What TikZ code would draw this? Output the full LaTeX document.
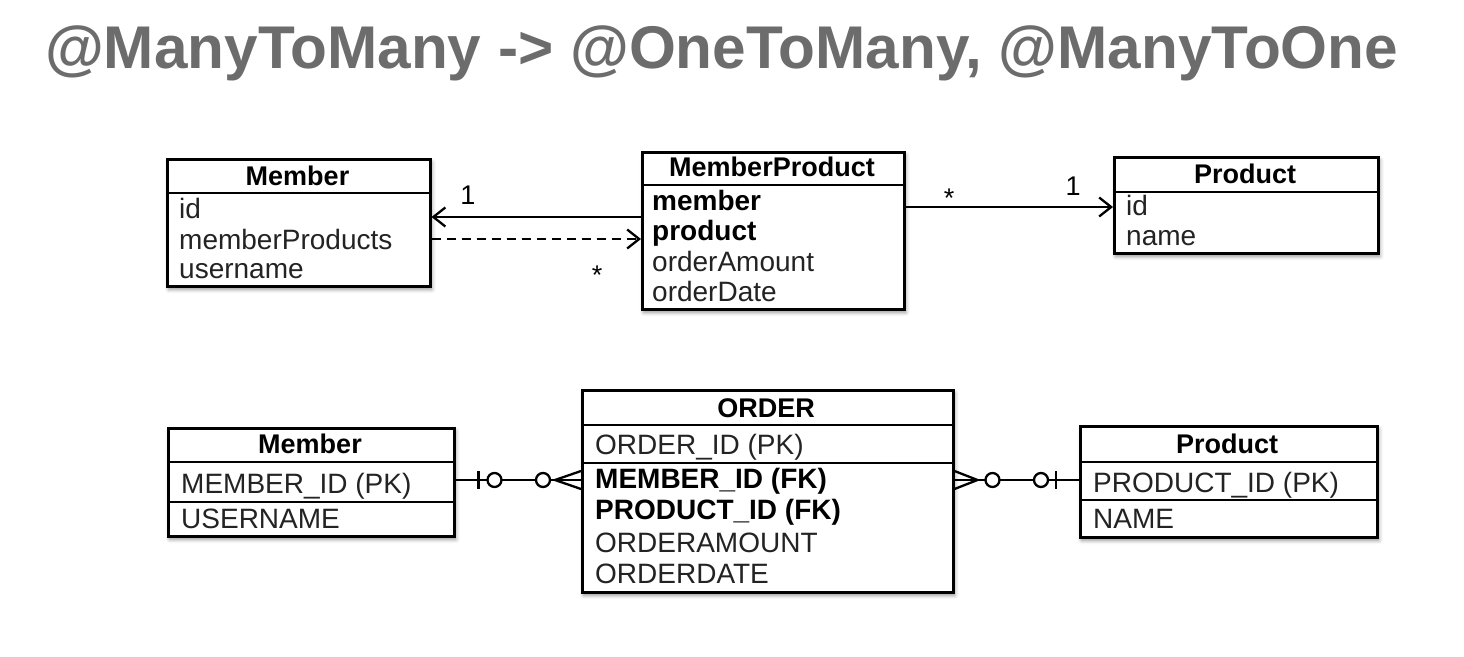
\documentclass[tikz,border=0pt]{standalone}
\usepackage{fontspec}
\setmainfont{Liberation Sans}
\usetikzlibrary{arrows.meta,shadows.blur,calc}
\definecolor{titlegray}{RGB}{108,108,108}
\definecolor{fieldgray}{RGB}{35,35,35}
\begin{document}
\begin{tikzpicture}[x=1pt,y=-1pt,
  entity/.style={draw=black,line width=2.5pt,fill=white,inner sep=0pt,anchor=north west,
    blur shadow={shadow xshift=1.5pt,shadow yshift=-3pt,shadow blur radius=4pt,shadow opacity=45}},
  hdr/.style={anchor=base,inner sep=0pt,font=\fontsize{27}{30}\selectfont\bfseries},
  fld/.style={anchor=base west,inner sep=0pt,font=\fontsize{28}{31}\selectfont,text=fieldgray},
  keyfld/.style={anchor=base west,inner sep=0pt,font=\fontsize{28}{31}\selectfont\bfseries,text=black},
  sep/.style={line width=2.5pt},
  conn/.style={line width=2.3pt},
  tip/.style={-{Straight Barb[length=12pt,width=19pt,line width=2.3pt]}},
  mult/.style={anchor=base,inner sep=0pt,font=\fontsize{27}{30}\selectfont},
  ring/.style={line width=2.3pt,fill=white}
]
\useasboundingbox (0,0) rectangle (1464,656);

% title
\node[anchor=base west,inner sep=0pt,text=titlegray,font=\fontsize{60.3}{64}\selectfont\bfseries]
  (title) at (45,68) {@ManyToMany -> @OneToMany, @ManyToOne};

% ---------- object model ----------
\node[entity,minimum width=263pt,minimum height=127pt] (memA) at (166,158) {};
\draw[sep] ([yshift=-35pt]memA.north west) -- ([yshift=-35pt]memA.north east);
\node[hdr] (memAh) at (297.5,185) {Member};
\node[fld] (memA1) at (179,218) {id};
\node[fld] (memA2) at (179,249) {memberProducts};
\node[fld] (memA3) at (179,278) {username};

\node[entity,minimum width=262pt,minimum height=157pt] (mp) at (641,151) {};
\draw[sep] ([yshift=-34pt]mp.north west) -- ([yshift=-34pt]mp.north east);
\node[hdr] (mph) at (772,176) {MemberProduct};
\node[keyfld] (mp1) at (652,210) {member};
\node[keyfld] (mp2) at (652,240) {product};
\node[fld] (mp3) at (652,271) {orderAmount};
\node[fld] (mp4) at (652,301) {orderDate};

\node[entity,minimum width=264pt,minimum height=96pt] (prodA) at (1113,156) {};
\draw[sep] ([yshift=-36pt]prodA.north west) -- ([yshift=-36pt]prodA.north east);
\node[hdr] (prodAh) at (1245,183) {Product};
\node[fld] (prodA1) at (1126,215) {id};
\node[fld] (prodA2) at (1126,245) {name};

% associations
\coordinate (ySolid) at (0,217);
\coordinate (yDash) at (0,239);
\coordinate (yProd) at (0,207);
\draw[conn,tip] (ySolid -| mp.west) -- (ySolid -| memA.east);
\draw[conn,tip,dash pattern=on 9pt off 6pt] (yDash -| memA.east) -- (yDash -| mp.west);
\draw[conn,tip] (yProd -| mp.east) -- (yProd -| prodA.west);
\node[mult] (m1) at (468,204) {1};
\node[mult] (m2) at (597,284) {*};
\node[mult] (m3) at (949,207) {*};
\node[mult] (m4) at (1073,195) {1};

% ---------- tables ----------
\node[entity,minimum width=286pt,minimum height=108pt] (memB) at (167,427) {};
\draw[sep] ([yshift=-35pt]memB.north west) -- ([yshift=-35pt]memB.north east);
\draw[sep] ([yshift=-75pt]memB.north west) -- ([yshift=-75pt]memB.north east);
\node[hdr] (memBh) at (310,453) {Member};
\node[fld] (memB1) at (181,493) {MEMBER\_ID (PK)};
\node[fld] (memB2) at (181,528) {USERNAME};

\node[entity,minimum width=371pt,minimum height=202pt] (ord) at (581,389) {};
\draw[sep] ([yshift=-36pt]ord.north west) -- ([yshift=-36pt]ord.north east);
\draw[sep] ([yshift=-74pt]ord.north west) -- ([yshift=-74pt]ord.north east);
\node[hdr] (ordh) at (766,417) {ORDER};
\node[fld] (ord1) at (595,454) {ORDER\_ID (PK)};
\node[keyfld] (ord2) at (595,488) {MEMBER\_ID (FK)};
\node[keyfld] (ord3) at (595,519) {PRODUCT\_ID (FK)};
\node[fld] (ord4) at (595,552) {ORDERAMOUNT};
\node[fld] (ord5) at (595,583) {ORDERDATE};

\node[entity,minimum width=297pt,minimum height=111pt] (prodB) at (1079,425) {};
\draw[sep] ([yshift=-37pt]prodB.north west) -- ([yshift=-37pt]prodB.north east);
\draw[sep] ([yshift=-75pt]prodB.north west) -- ([yshift=-75pt]prodB.north east);
\node[hdr] (prodBh) at (1227,453) {Product};
\node[fld] (prodB1) at (1093,492) {PRODUCT\_ID (PK)};
\node[fld] (prodB2) at (1093,528) {NAME};

% relationships (crow's foot)
\coordinate (yRel) at (0,480);
\coordinate (lA) at (yRel -| memB.east);
\coordinate (lB) at (yRel -| ord.west);
\coordinate (rA) at (yRel -| ord.east);
\coordinate (rB) at (yRel -| prodB.west);

\draw[conn] (lA) -- (lB);
\draw[conn] ($(lA)+(23,-9)$) -- ($(lA)+(23,9)$);
\draw[ring] ($(lA)+(39,0)$) circle[radius=7pt];
\draw[ring] ($(lB)+(-38,0)$) circle[radius=7pt];
\draw[conn] ($(lB)+(0,-9)$) -- ($(lB)+(-26,0)$) -- ($(lB)+(0,9)$);

\draw[conn] (rA) -- (rB);
\draw[conn] ($(rA)+(0,-9)$) -- ($(rA)+(23,0)$) -- ($(rA)+(0,9)$);
\draw[ring] ($(rA)+(38,0)$) circle[radius=7pt];
\draw[ring] ($(rB)+(-38,0)$) circle[radius=7pt];
\draw[conn] ($(rB)+(-23,-9)$) -- ($(rB)+(-23,9)$);
\end{tikzpicture}
\end{document}
